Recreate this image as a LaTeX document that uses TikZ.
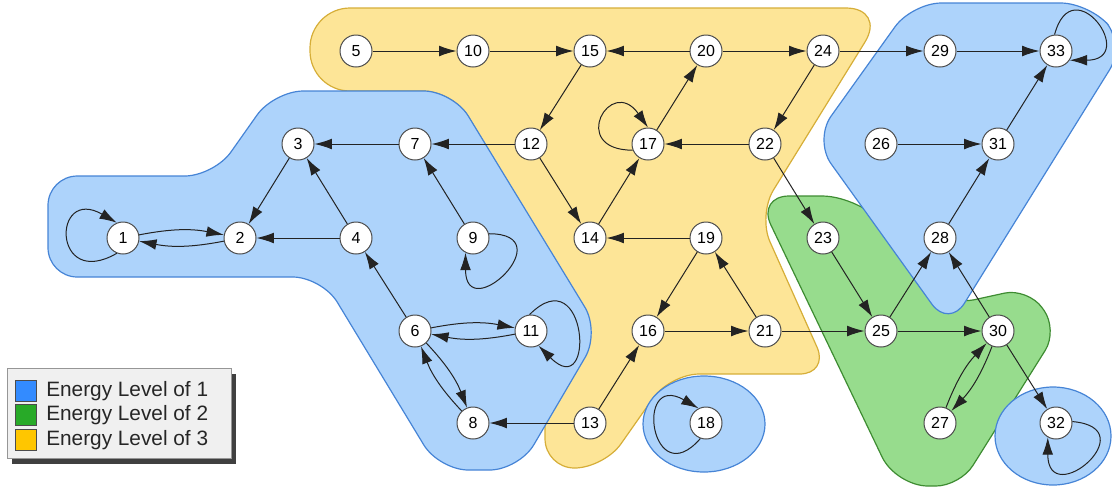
\documentclass[tikz,border=0pt]{standalone}
\usepackage{fontspec}
\setmainfont{Liberation Sans}
\usetikzlibrary{arrows.meta,shadows}

\definecolor{bluefill}{RGB}{173,211,251}
\definecolor{blueline}{RGB}{70,132,214}
\definecolor{yellowfill}{RGB}{253,229,151}
\definecolor{yellowline}{RGB}{214,174,56}
\definecolor{greenfill}{RGB}{151,220,141}
\definecolor{greenline}{RGB}{62,140,50}
\definecolor{edgegray}{RGB}{35,35,35}
\definecolor{nodegray}{RGB}{75,75,75}
\definecolor{legendfill}{RGB}{240,240,240}
\definecolor{legendline}{RGB}{150,150,150}
\definecolor{keyblue}{RGB}{51,139,255}
\definecolor{keygreen}{RGB}{40,170,40}
\definecolor{keyyellow}{RGB}{255,198,0}

\begin{document}
\begin{tikzpicture}[x=0.75pt,y=0.75pt,
  state/.style={circle,draw=nodegray,fill=white,line width=0.75pt,minimum size=24pt,inner sep=0pt,font=\fontsize{12}{14}\selectfont},
  link/.style={draw=edgegray,line width=0.75pt,-{Latex[length=13pt,width=8pt]}},
  blob/.style={line width=0.9pt,rounded corners=22pt},
  keybox/.style={draw=black!70,line width=0.6pt,minimum size=15.5pt,inner sep=0pt},
  legtext/.style={anchor=west,inner sep=0pt,text=black!85,font=\fontsize{15.6}{18}\selectfont}]
\useasboundingbox (0,0) rectangle (1112,-487);

%Shape: Energy Level of 3
\draw[blob,fill=yellowfill,draw=yellowline] (310,-8) [rounded corners=30pt] -- (886,-8) [rounded corners=22pt] -- (758,-215) -- (829,-374) -- (670,-374) -- (604,-468) -- (545,-468) -- (545,-400) -- (598,-332) -- (453,-91) [rounded corners=30pt] -- (310,-91) -- cycle;
%Shape: Energy Level of 2
\draw[blob,fill=greenfill,draw=greenline] (757,-196) [rounded corners=30pt] -- (862,-196) [rounded corners=18pt] -- (950,-305) -- (1028,-288) -- (1058,-330) -- (960,-486) [rounded corners=24pt] -- (896,-486) -- cycle;
%Shape: Energy Level of 1
\draw[blob,fill=bluefill,draw=blueline] (912,-3) -- (1090,-3) -- (1125,-45) -- (949,-328) -- (814,-140) -- cycle;
\draw[blob,fill=bluefill,draw=blueline] (48,-176) -- (214,-176) -- (274,-91) -- (453,-91) -- (600,-332) -- (519,-470) -- (439,-470) -- (322,-277) -- (48,-277) -- cycle;
\draw[fill=bluefill,draw=blueline,line width=0.9pt] (704,-424) ellipse [x radius=61,y radius=48];
\draw[fill=bluefill,draw=blueline,line width=0.9pt] (1053,-436) ellipse [x radius=58,y radius=49];

%Shape: Circle
\node[state] (n1) at (123,-238) {1};
\node[state] (n2) at (240,-238) {2};
\node[state] (n3) at (298,-144) {3};
\node[state] (n4) at (356,-238) {4};
\node[state] (n5) at (356,-51) {5};
\node[state] (n6) at (415,-331) {6};
\node[state] (n7) at (415,-144) {7};
\node[state] (n8) at (473,-423) {8};
\node[state] (n9) at (473,-238) {9};
\node[state] (n10) at (473,-51) {10};
\node[state] (n11) at (531,-331) {11};
\node[state] (n12) at (531,-144) {12};
\node[state] (n13) at (590,-423) {13};
\node[state] (n14) at (590,-238) {14};
\node[state] (n15) at (590,-51) {15};
\node[state] (n16) at (648,-331) {16};
\node[state] (n17) at (648,-144) {17};
\node[state] (n18) at (706,-423) {18};
\node[state] (n19) at (706,-238) {19};
\node[state] (n20) at (706,-51) {20};
\node[state] (n21) at (765,-331) {21};
\node[state] (n22) at (765,-144) {22};
\node[state] (n23) at (823,-238) {23};
\node[state] (n24) at (823,-51) {24};
\node[state] (n25) at (881,-331) {25};
\node[state] (n26) at (881,-144) {26};
\node[state] (n27) at (940,-423) {27};
\node[state] (n28) at (940,-238) {28};
\node[state] (n29) at (940,-51) {29};
\node[state] (n30) at (998,-331) {30};
\node[state] (n31) at (998,-144) {31};
\node[state] (n32) at (1056,-423) {32};
\node[state] (n33) at (1056,-51) {33};

%Straight Lines
\draw[link] (n3) -- (n2);
\draw[link] (n4) -- (n3);
\draw[link] (n4) -- (n2);
\draw[link] (n7) -- (n3);
\draw[link] (n9) -- (n7);
\draw[link] (n6) -- (n4);
\draw[link] (n13) -- (n8);
\draw[link] (n13) -- (n16);
\draw[link] (n5) -- (n10);
\draw[link] (n10) -- (n15);
\draw[link] (n20) -- (n15);
\draw[link] (n20) -- (n24);
\draw[link] (n15) -- (n12);
\draw[link] (n12) -- (n7);
\draw[link] (n12) -- (n14);
\draw[link] (n14) -- (n17);
\draw[link] (n17) -- (n20);
\draw[link] (n22) -- (n17);
\draw[link] (n24) -- (n22);
\draw[link] (n22) -- (n23);
\draw[link] (n24) -- (n29);
\draw[link] (n29) -- (n33);
\draw[link] (n26) -- (n31);
\draw[link] (n31) -- (n33);
\draw[link] (n28) -- (n31);
\draw[link] (n25) -- (n28);
\draw[link] (n30) -- (n28);
\draw[link] (n23) -- (n25);
\draw[link] (n21) -- (n25);
\draw[link] (n25) -- (n30);
\draw[link] (n19) -- (n14);
\draw[link] (n19) -- (n16);
\draw[link] (n16) -- (n21);
\draw[link] (n21) -- (n19);
\draw[link] (n30) -- (n32);

%Curve Lines
\draw[link] (n1) to[bend left=11] (n2);
\draw[link] (n2) to[bend left=11] (n1);
\draw[link] (n6) to[bend left=11] (n11);
\draw[link] (n11) to[bend left=11] (n6);
\draw[link] (n6) to[bend left=11] (n8);
\draw[link] (n8) to[bend left=11] (n6);
\draw[link] (n27) to[bend left=11] (n30);
\draw[link] (n30) to[bend left=11] (n27);

%Loops
\draw[link] (n1.248) .. controls +(210:75) and +(150:75) .. (n1.112);
\draw[link] (n9.15) .. controls +(0:75) and +(270:75) .. (n9.243);
\draw[link] (n11.95) .. controls +(45:82) and +(315:82) .. (n11.297);
\draw[link] (n17.202) .. controls +(180:65) and +(125:65) .. (n17.90);
\draw[link] (n18.250) .. controls +(229:75) and +(150:75) .. (n18.117);
\draw[link] (n32.5) .. controls +(-5:75) and +(270:75) .. (n32.240);
\draw[link] (n33.95) .. controls +(75:70) and +(0:70) .. (n33.326);

%Legend
\node[draw=legendline,fill=legendfill,line width=0.6pt,minimum width=168pt,minimum height=68pt,inner sep=0pt,
  drop shadow={shadow xshift=4pt,shadow yshift=-4pt,fill=black!75,opacity=1}] (legend) at (119,-413.5) {};
\node[keybox,fill=keyblue] (key1) at (26,-391) {};
\node[keybox,fill=keygreen] (key2) at (26,-415) {};
\node[keybox,fill=keyyellow] (key3) at (26,-440) {};
\node[legtext] (lab1) at (46,-391) {Energy Level of 1};
\node[legtext] (lab2) at (46,-415) {Energy Level of 2};
\node[legtext] (lab3) at (46,-440) {Energy Level of 3};
\end{tikzpicture}
\end{document}
